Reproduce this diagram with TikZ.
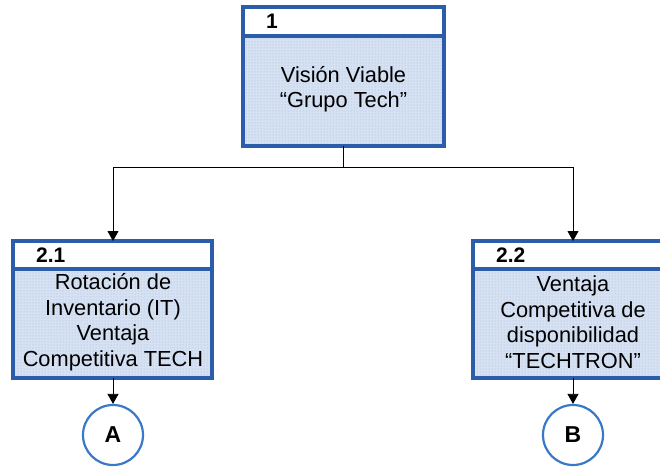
\documentclass[tikz,border=0pt]{standalone}
\usepackage{fontspec}
\setmainfont{Liberation Sans}
\usetikzlibrary{arrows.meta,patterns}
\definecolor{boxblue}{RGB}{43,93,170}
\definecolor{boxfill}{RGB}{214,225,242}
\definecolor{boxdots}{RGB}{160,185,225}
\definecolor{ringblue}{RGB}{58,120,200}
\tikzset{
  frame/.style={draw=boxblue,line width=4pt},
  body/.style={fill=boxfill},
  dotted body/.style={pattern=dots,pattern color=boxdots},
  bodytext/.style={align=center,font=\fontsize{21.8}{25.5}\selectfont,inner sep=0pt},
  numtext/.style={anchor=west,font=\fontsize{21}{22}\bfseries\selectfont,inner sep=0pt},
  conn/.style={draw=black,line width=0.8pt},
  tip/.style={-{Triangle[length=10pt,width=11pt]}},
  ring/.style={circle,draw=ringblue,line width=2.2pt,fill=white,minimum size=60pt,inner sep=0pt,font=\fontsize{23}{24}\bfseries\selectfont}
}
\begin{document}
\begin{tikzpicture}[x=1pt,y=-1pt]
\useasboundingbox (0,0) rectangle (660,468);
\clip (0,0) rectangle (660,468);
\fill[white] (0,0) rectangle (660,468);

% top box
\fill[body] (243,36) rectangle (444,146);
\fill[dotted body] (243,36) rectangle (444,146);
\draw[frame] (243,36) -- (444,36);
\draw[frame] (243,7) rectangle (444,146);
\node[numtext] (n1) at (266,21.5) {1};
\node[bodytext] (t1) at (343.5,89) {Visión Viable\\“Grupo Tech”};
\coordinate (b1) at (343.5,146);

% box 2.1
\fill[body] (13,269) rectangle (212,378);
\fill[dotted body] (13,269) rectangle (212,378);
\draw[frame] (13,269) -- (212,269);
\draw[frame] (13,241) rectangle (212,378);
\node[numtext] (n21) at (36,255.5) {2.1};
\node[bodytext] (t21) at (113,322) {Rotación de\\Inventario (IT)\\Ventaja\\Competitiva TECH};
\coordinate (top21) at (113,241);
\coordinate (bot21) at (113,378);

% box 2.2
\fill[body] (473,269) rectangle (672,378);
\fill[dotted body] (473,269) rectangle (672,378);
\draw[frame] (473,269) -- (672,269);
\draw[frame] (473,241) rectangle (672,378);
\node[numtext] (n22) at (496,255.5) {2.2};
\node[bodytext] (t22) at (573,322) {Ventaja\\Competitiva de\\disponibilidad\\“TECHTRON”};
\coordinate (top22) at (573,241);
\coordinate (bot22) at (573,378);

% connectors
\coordinate (j) at (343.5,167);
\coordinate (jl) at (113,167);
\coordinate (jr) at (573,167);
\draw[conn] (b1) -- (j);
\draw[conn] (jl) -- (jr);
\draw[conn,tip] (jl) -- (top21);
\draw[conn,tip] (jr) -- (top22);

% off-page connectors
\node[ring] (A) at (113,435) {A};
\node[ring] (B) at (573,435) {B};
\draw[conn,tip] (bot21) -- (A);
\draw[conn,tip] (bot22) -- (B);
\end{tikzpicture}
\end{document}
